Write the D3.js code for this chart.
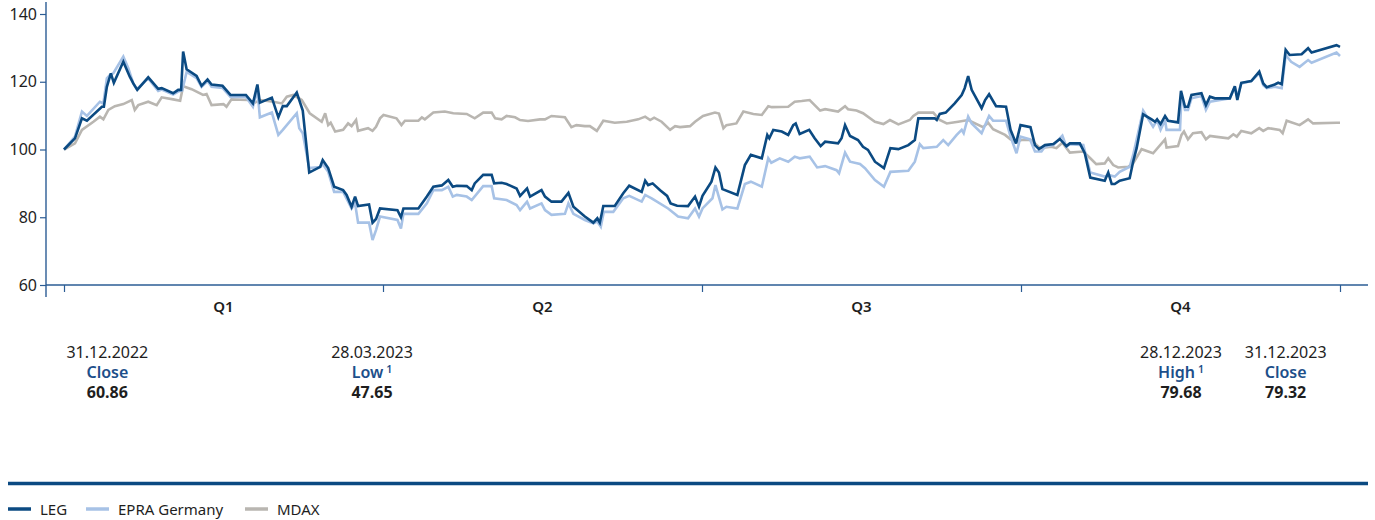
<!DOCTYPE html>
<html>
<head>
<meta charset="utf-8">
<script src="https://cdn.jsdelivr.net/npm/d3@7"></script>
<style>
  html, body { margin: 0; padding: 0; background: #fff; }
  svg { display: block; font-family: "Noto Sans", "Open Sans", sans-serif; }
</style>
</head>
<body>
<svg id="chart" width="1375" height="520"></svg>
<script>
// ---- Data (indexed to 100 at 31.12.2022; x = trading day of 2023) ----
const yTicks = [60, 80, 100, 120, 140];
const quarterTicks = [0, 64, 128, 192, 256];
const quarterLabels = ["Q1", "Q2", "Q3", "Q4"];

const legData = [[0,100],[2.2,103.3],[3.6,109.2],[4.6,108.5],[7.6,112.6],[8.0,112.6],[8.6,118.5],[9.4,122.5],[10.0,119.7],[11.9,125.9],[13.2,121.5],[13.9,119.5],[14.7,117.6],[16.9,121.3],[18.9,117.9],[19.6,118.1],[21.9,116.6],[22.9,117.6],[23.5,117.6],[23.9,128.9],[24.6,123.7],[26.6,121.7],[27.6,118.8],[28.8,120.7],[29.6,119.2],[31.8,118.8],[33.4,116.1],[36.5,116.1],[37.9,113.6],[38.8,119.2],[39.3,113.8],[41.7,115.3],[43.0,109.5],[43.9,112.8],[44.7,112.8],[46.7,116.8],[47.9,111.5],[49.2,93.2],[51.4,94.9],[51.9,96.9],[53.0,94.5],[54.2,89.0],[56.0,88.0],[56.7,86.6],[57.7,83.1],[58.4,86.1],[59.0,83.3],[61.2,83.8],[61.9,78.4],[62.6,79.5],[63.4,82.6],[66.9,82.1],[67.6,80.0],[68.1,82.6],[71.1,82.6],[72.8,86.1],[74.1,89.0],[75.8,89.4],[77.1,91.0],[78.0,89.0],[78.8,89.3],[80.8,89.2],[81.8,88.0],[82.4,90.0],[84.1,92.5],[85.8,92.5],[86.3,90.0],[87.8,90.2],[88.8,89.8],[90.8,88.5],[91.5,86.3],[92.9,88.5],[93.5,86.1],[95.8,88.0],[96.5,86.1],[97.8,84.6],[99.8,84.6],[101.2,87.2],[102.2,83.1],[104.5,80.2],[106.2,78.4],[107.0,79.7],[107.5,78.4],[108.2,83.3],[110.5,83.3],[112.2,87.1],[113.4,89.3],[115.9,87.5],[116.6,90.8],[117.2,89.5],[118.1,90.0],[119.6,88.0],[121.0,86.3],[121.7,84.1],[123.0,83.4],[125.2,83.3],[126.6,86.1],[127.4,83.1],[128.1,86.3],[129.9,90.5],[130.7,94.7],[131.4,93.2],[132.1,88.3],[135.1,86.6],[136.6,95.4],[137.8,98.4],[140.0,97.4],[141.1,104.3],[141.5,103.3],[142.3,105.8],[144.0,105.3],[145.3,104.3],[146.3,107.2],[146.8,107.7],[147.6,104.6],[149.5,105.8],[150.6,103.3],[151.8,101.0],[152.7,102.3],[155.3,101.8],[156.0,103.3],[156.7,107.2],[157.7,104.0],[159.3,102.8],[160.3,100.8],[161.3,99.9],[162.7,96.4],[164.5,94.5],[165.8,100.4],[167.4,100.1],[169.4,101.3],[170.7,102.8],[171.4,109.2],[174.7,109.2],[175.1,108.7],[175.7,110.5],[176.9,110.9],[178.7,113.6],[180.1,116.1],[180.7,118.1],[181.4,121.7],[182.1,117.6],[184.1,112.2],[184.8,114.6],[185.6,116.3],[187.0,112.8],[189.0,112.6],[189.9,105.8],[191.0,101.8],[191.9,107.2],[193.9,106.6],[194.8,101.3],[195.6,100.1],[196.8,101.3],[198.5,101.6],[199.8,103.1],[201.1,101.0],[201.8,101.8],[203.8,101.8],[204.8,98.9],[205.9,91.7],[208.8,90.8],[209.5,93.2],[210.2,89.8],[210.8,89.8],[211.8,90.8],[213.8,91.5],[214.5,96.4],[215.2,100.4],[216.5,110.4],[218.2,108.9],[218.9,108.2],[219.3,108.9],[220.0,107.5],[220.9,109.9],[221.5,108.5],[223.5,108.0],[224.1,117.3],[224.9,112.6],[225.5,112.6],[226.2,116.1],[228.2,116.6],[229.1,113.1],[229.9,115.6],[230.9,115.1],[233.9,115.1],[234.9,118.7],[235.4,114.6],[236.2,119.7],[238.2,120.2],[239.8,123.0],[240.6,119.5],[241.3,118.4],[242.9,119.2],[243.6,119.7],[244.3,119.3],[245.1,129.4],[245.9,127.9],[248.3,128.1],[249.6,129.9],[250.3,128.6],[255.3,130.8],[256.0,130.3]];

const epraData = [[0,100],[2.2,103.8],[3.6,111.2],[4.6,109.9],[7.2,114.1],[7.9,113.6],[8.6,121.0],[9.2,122.0],[9.9,122.5],[11.9,127.4],[12.9,124.0],[13.9,119.5],[14.6,117.8],[16.9,121.0],[18.9,117.3],[19.6,117.7],[21.9,116.2],[22.9,117.1],[23.7,117.4],[24.6,122.9],[26.6,121.1],[27.6,118.5],[28.8,120.2],[29.6,118.5],[31.8,118.2],[33.4,115.5],[36.5,115.5],[37.9,112.6],[38.8,117.6],[39.3,109.5],[41.7,110.9],[43.0,104.3],[43.9,105.8],[46.7,110.7],[47.2,106.3],[47.9,104.8],[49.2,94.5],[51.4,94.8],[51.9,95.7],[53.0,93.4],[54.2,87.5],[56.0,87.5],[57.7,82.6],[58.4,84.1],[59.0,78.4],[61.2,78.4],[61.9,73.3],[62.6,76.2],[63.4,80.2],[66.9,79.2],[67.6,76.7],[68.1,81.0],[71.1,81.0],[72.8,84.1],[74.1,88.0],[75.8,88.0],[77.1,89.0],[78.0,86.1],[78.8,86.6],[80.8,86.1],[81.8,85.1],[84.1,89.2],[85.8,89.2],[86.3,85.6],[88.8,85.1],[90.8,83.6],[91.5,82.1],[92.9,84.6],[93.5,82.6],[95.8,84.1],[96.5,82.1],[97.8,80.7],[100.5,81.0],[101.2,84.1],[102.2,81.0],[104.5,79.2],[106.2,78.2],[107.0,78.7],[107.7,77.2],[108.3,81.6],[110.2,81.6],[112.2,85.6],[113.4,86.3],[115.9,84.6],[116.6,86.6],[117.9,85.6],[121.2,82.6],[123.2,80.2],[125.2,79.7],[126.6,82.6],[127.4,80.2],[128.1,82.6],[130.1,85.6],[130.7,89.5],[132.1,82.3],[132.9,83.1],[135.1,82.6],[136.6,89.8],[137.8,90.5],[140.0,89.0],[141.3,97.4],[141.9,96.1],[143.6,97.4],[145.3,96.4],[146.6,97.9],[147.6,97.4],[149.6,97.9],[151.1,94.7],[152.7,95.1],[155.0,93.9],[155.5,93.0],[156.7,99.1],[157.7,96.4],[159.7,95.7],[160.7,94.5],[162.7,91.0],[164.5,89.0],[165.8,93.4],[169.4,93.7],[170.7,96.4],[171.7,101.6],[172.4,100.4],[175.1,100.8],[176.4,102.8],[177.4,101.3],[179.1,104.3],[180.1,105.8],[180.5,104.8],[181.4,109.7],[182.1,107.7],[184.1,104.8],[184.8,107.2],[185.6,109.9],[186.4,108.5],[189.0,108.5],[189.9,103.8],[191.1,98.9],[191.9,103.8],[193.8,103.0],[194.8,99.4],[196.1,99.4],[196.8,100.8],[198.5,101.3],[200.3,104.1],[201.1,100.8],[201.8,101.6],[204.5,101.3],[205.9,93.2],[208.8,92.0],[209.5,92.5],[210.8,92.0],[211.8,93.4],[213.8,94.9],[214.5,98.4],[216.5,111.5],[218.5,106.7],[219.3,108.7],[220.0,105.8],[220.9,108.7],[221.2,105.8],[223.9,105.8],[224.2,116.1],[224.9,111.7],[225.5,111.7],[226.2,115.1],[228.2,115.8],[229.1,111.7],[229.9,114.1],[233.9,115.1],[234.9,118.5],[235.4,115.6],[236.2,119.5],[238.2,120.2],[239.8,122.5],[240.6,119.0],[241.3,118.1],[242.9,118.5],[244.3,118.1],[245.1,127.9],[246.2,125.9],[247.9,124.4],[249.6,126.4],[250.3,125.6],[255.3,128.6],[256.0,127.6]];

const mdaxData = [[0,100],[2.2,101.8],[3.6,105.8],[5.9,108.2],[7.2,109.7],[7.9,108.9],[8.9,111.7],[10.2,112.8],[11.9,113.4],[13.6,114.6],[14.2,111.7],[14.9,113.1],[16.9,114.1],[18.6,113.1],[19.6,115.4],[21.9,114.8],[23.3,114.4],[23.9,118.7],[25.6,117.8],[27.9,116.1],[28.6,116.4],[29.6,113.1],[32.0,113.4],[32.6,112.6],[33.6,114.8],[37.0,114.6],[38.0,113.6],[39.3,114.6],[42.0,114.1],[43.7,113.6],[44.7,115.6],[46.0,116.1],[47.7,114.6],[49.3,110.7],[51.7,108.2],[52.4,110.7],[53.0,107.2],[53.5,107.9],[54.4,105.3],[56.0,105.8],[57.0,107.7],[57.7,106.9],[58.6,108.7],[59.0,105.5],[61.0,106.3],[61.9,105.5],[62.6,106.7],[63.4,109.2],[64.1,110.2],[66.7,109.2],[67.7,107.2],[68.4,108.5],[71.1,108.5],[71.8,109.5],[72.4,108.9],[74.1,110.9],[76.4,111.2],[78.1,110.7],[80.8,110.5],[82.4,109.2],[84.1,110.9],[85.8,110.9],[86.5,109.2],[87.8,108.9],[88.8,109.9],[90.5,109.5],[91.5,108.7],[93.1,108.4],[95.5,108.9],[96.5,108.9],[97.8,109.9],[100.5,109.5],[101.8,106.6],[102.8,107.2],[104.5,106.9],[105.5,106.9],[106.9,105.5],[108.2,108.5],[110.5,107.9],[112.9,108.2],[115.2,108.9],[116.6,109.7],[117.6,108.7],[118.4,109.4],[119.9,108.2],[121.6,105.8],[122.6,106.9],[123.6,106.6],[125.6,106.9],[126.6,108.2],[128.2,109.9],[130.6,110.9],[131.4,110.6],[132.3,106.3],[132.9,107.2],[134.9,107.7],[136.3,111.2],[138.3,110.5],[140.0,110.2],[141.3,112.8],[142.0,112.5],[145.3,112.6],[146.6,114.1],[148.0,114.3],[149.6,114.6],[151.7,111.5],[152.7,111.9],[155.3,111.2],[156.7,112.8],[157.3,111.9],[159.0,111.5],[160.3,110.7],[162.7,108.2],[164.4,107.5],[165.7,108.7],[167.4,107.4],[169.7,108.7],[170.4,109.9],[171.4,110.9],[174.4,110.9],[175.7,108.7],[177.1,107.7],[179.4,108.2],[181.4,108.7],[184.4,106.6],[185.4,107.9],[186.4,106.0],[188.8,104.3],[189.9,103.0],[191.1,102.3],[192.1,102.8],[194.1,102.8],[195.8,100.4],[198.1,100.8],[199.1,100.4],[200.3,102.0],[201.8,99.1],[204.5,99.4],[205.9,97.4],[207.1,95.7],[208.8,95.9],[209.5,97.4],[210.5,95.4],[211.5,94.7],[213.5,94.9],[214.5,95.9],[216.2,100.1],[218.5,98.9],[220.9,103.0],[221.2,100.6],[223.5,101.0],[224.2,104.3],[224.7,105.3],[225.5,103.0],[226.5,104.8],[228.2,105.1],[229.1,103.0],[229.9,104.0],[230.9,103.8],[233.6,103.3],[234.6,104.5],[235.3,103.8],[236.2,105.5],[238.2,104.8],[239.8,106.3],[240.6,105.5],[241.6,106.3],[243.9,105.8],[244.5,104.8],[245.3,108.5],[247.9,107.2],[249.6,108.9],[250.6,107.7],[255.3,107.9],[256.0,107.9]];

// Annotations below the chart (anchor = trading-day position of the text block)
const annoAnchors = [8.7, 61.8, 224.1, 245.1];
const annoDates   = ["31.12.2022", "28.03.2023", "28.12.2023", "31.12.2023"];
const annoKinds   = ["Close", "Low", "High", "Close"];
const annoSup     = ["", "1", "1", ""];
const annoValues  = ["60.86", "47.65", "79.68", "79.32"];

const seriesNames = ["LEG", "EPRA Germany", "MDAX"];

// ---- Styles ----
const C_LEG = "#0b4a82", C_EPRA = "#a7c2e6", C_MDAX = "#b9b6b1";
const C_AXIS = "#2b5c94", C_TEXT = "#1e1e1e", C_BLUE = "#1d4f8a";

const svg = d3.select("#chart");
const x = d3.scaleLinear().domain([0, 256]).range([64, 1340]);
const y = d3.scaleLinear().domain([60, 140]).range([285, 14]);

// Axis lines
const axisX0 = 46;
svg.append("line").attr("x1", axisX0).attr("x2", axisX0).attr("y1", 2).attr("y2", 297)
  .attr("stroke", C_AXIS).attr("stroke-width", 1.4);
svg.append("line").attr("x1", axisX0).attr("x2", 1368).attr("y1", y(60)).attr("y2", y(60))
  .attr("stroke", C_AXIS).attr("stroke-width", 1.4);

// Y axis ticks
const yAxis = d3.axisLeft(y).tickValues(yTicks).tickSize(6).tickPadding(3).tickFormat(d3.format("d"));
const gy = svg.append("g").attr("transform", `translate(${axisX0},0)`).call(yAxis);
gy.select(".domain").remove();
gy.selectAll("line").attr("stroke", C_AXIS).attr("stroke-width", 1.2);
gy.selectAll("text").attr("fill", C_TEXT).style("font-size", "16px").style("font-family", "'Noto Sans', sans-serif");

// X axis ticks (quarter boundaries)
const xAxis = d3.axisBottom(x).tickValues(quarterTicks).tickSize(7).tickFormat("");
const gx = svg.append("g").attr("transform", `translate(0,${y(60)})`).call(xAxis);
gx.select(".domain").remove();
gx.selectAll("line").attr("stroke", C_AXIS).attr("stroke-width", 1.2);

// Quarter labels
svg.append("g").selectAll("text").data(quarterLabels).join("text")
  .attr("x", (d, i) => x((quarterTicks[i] + quarterTicks[i + 1]) / 2))
  .attr("y", 312)
  .attr("text-anchor", "middle")
  .attr("fill", C_TEXT)
  .style("font-size", "15px").style("font-weight", 600)
  .text(d => d);

// Lines
const line = d3.line().x(d => x(d[0])).y(d => y(d[1]));
const seriesList = [
  { data: mdaxData, color: C_MDAX },
  { data: epraData, color: C_EPRA },
  { data: legData, color: C_LEG }
];
svg.append("g").selectAll("path").data(seriesList).join("path")
  .attr("d", d => line(d.data))
  .attr("fill", "none")
  .attr("stroke", d => d.color)
  .attr("stroke-width", 2.6)
  .attr("stroke-linejoin", "miter")
  .attr("stroke-miterlimit", 3);

// Annotations
const ga = svg.append("g").attr("text-anchor", "middle");
annoAnchors.forEach((a, i) => {
  const cx = x(a);
  ga.append("text").attr("x", cx).attr("y", 357.5).attr("fill", C_TEXT)
    .style("font-size", "16px").text(annoDates[i]);
  const t = ga.append("text").attr("x", cx).attr("y", 377.5).attr("fill", C_BLUE)
    .style("font-size", "16px").style("font-weight", 600);
  t.append("tspan").text(annoKinds[i]);
  if (annoSup[i]) {
    t.append("tspan").attr("dx", 3).attr("dy", -5).style("font-size", "10.5px").text(annoSup[i]);
  }
  ga.append("text").attr("x", cx).attr("y", 397.5).attr("fill", C_TEXT)
    .style("font-size", "16px").style("font-weight", 700).text(annoValues[i]);
});

// Bottom rule
svg.append("line").attr("x1", 8).attr("x2", 1368).attr("y1", 483.5).attr("y2", 483.5)
  .attr("stroke", C_LEG).attr("stroke-width", 3.5);

// Legend
const legendX = [8, 86, 245];
const legendColors = [C_LEG, C_EPRA, C_MDAX];
const gl = svg.append("g");
seriesNames.forEach((n, i) => {
  gl.append("line").attr("x1", legendX[i]).attr("x2", legendX[i] + 23)
    .attr("y1", 509).attr("y2", 509).attr("stroke", legendColors[i]).attr("stroke-width", 3.5);
  gl.append("text").attr("x", legendX[i] + 32).attr("y", 514.5).attr("fill", C_TEXT)
    .style("font-size", "15px").text(n);
});
</script>
</body>
</html>
